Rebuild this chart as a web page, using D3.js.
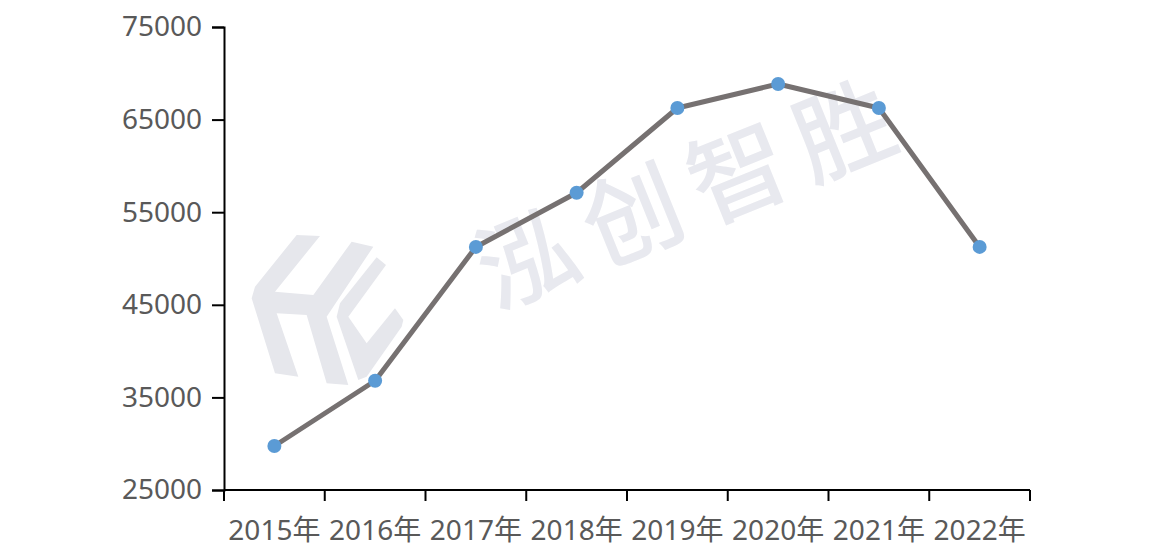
<!DOCTYPE html>
<html>
<head>
<meta charset="utf-8">
<script src="https://cdn.jsdelivr.net/npm/d3@7"></script>
<style>
  body { margin: 0; background: #fff; }
  svg text { font-family: "Noto Sans", "Noto Sans CJK SC", sans-serif; }
</style>
</head>
<body>
<svg id="chart" width="1167" height="557"></svg>
<script>
// 数据
const years = ["2015年", "2016年", "2017年", "2018年", "2019年", "2020年", "2021年", "2022年"];
const values = [29750, 36800, 51250, 57100, 66250, 68850, 66250, 51250];
const yTicks = [25000, 35000, 45000, 55000, 65000, 75000];

const svg = d3.select("#chart");
const margin = { left: 224, right: 137, top: 27, bottom: 67 };
const width = 1167 - margin.left - margin.right;
const height = 557 - margin.top - margin.bottom;

// 水印 (logo + 文字)
const wm = svg.append("g").attr("class", "watermark");
const logo = wm.append("g").attr("transform", "translate(230,220) scale(0.3333)");
logo.append("path")
    .attr("d", "M200,45 L270,48 L135,215 L250,225 L365,65 L430,80 L290,290 L355,495 L290,490 L230,285 L140,280 L205,470 L135,460 L65,235 L75,200 Z")
    .attr("fill", "#e6e7ec");
logo.append("path")
    .attr("d", "M440,112 L468,135 L355,290 L410,370 L495,265 L520,300 L515,320 L410,470 L385,480 L320,290 L330,250 Z")
    .attr("fill", "#e6e7ec");
wm.append("text")
    .attr("x", 690).attr("y", 185)
    .attr("text-anchor", "middle")
    .attr("dominant-baseline", "central")
    .attr("transform", "rotate(-22,690,185)")
    .style("font-family", "'Noto Sans CJK SC', sans-serif")
    .style("font-weight", "500")
    .style("font-size", "98px")
    .style("letter-spacing", "16px")
    .attr("fill", "#e8e9ef")
    .text("泓创智胜");

const g = svg.append("g").attr("transform", `translate(${margin.left},${margin.top})`);

const x = d3.scaleBand().domain(years).range([0, width]);
const y = d3.scaleLinear().domain([25000, 75000]).range([height, 0]);

// y 轴
const yAxis = g.append("g")
    .call(d3.axisLeft(y).tickValues(yTicks).tickSize(12).tickPadding(10).tickFormat(d3.format("d")));
// x 轴
const xAxis = g.append("g")
    .attr("transform", `translate(0,${height})`)
    .call(d3.axisBottom(x).tickSize(0).tickPadding(30));

[yAxis, xAxis].forEach(function (ax) {
    ax.select(".domain").attr("stroke", "#000").attr("stroke-width", 2);
    ax.selectAll(".tick line").attr("stroke", "#000").attr("stroke-width", 2);
    ax.selectAll("text").attr("fill", "#595959").style("font-size", "28px");
});
xAxis.select(".domain").attr("d", `M0,0H${width}`);

// x 轴刻度在分类之间
const xBounds = d3.range(years.length + 1).map(i => i * x.step());
xAxis.selectAll(".sep")
    .data(xBounds)
    .enter()
    .append("line")
    .attr("class", "sep")
    .attr("x1", d => d).attr("x2", d => d)
    .attr("y1", 0).attr("y2", 11)
    .attr("stroke", "#000").attr("stroke-width", 2);

// 折线
const line = d3.line()
    .x((d, i) => x(years[i]) + x.bandwidth() / 2)
    .y(d => y(d));
g.append("path")
    .datum(values)
    .attr("d", line)
    .attr("fill", "none")
    .attr("stroke", "#767171")
    .attr("stroke-width", 5)
    .attr("stroke-linejoin", "round");

g.selectAll(".dot")
    .data(values)
    .enter()
    .append("circle")
    .attr("class", "dot")
    .attr("cx", (d, i) => x(years[i]) + x.bandwidth() / 2)
    .attr("cy", d => y(d))
    .attr("r", 7)
    .attr("fill", "#5b9bd5");
</script>
</body>
</html>
